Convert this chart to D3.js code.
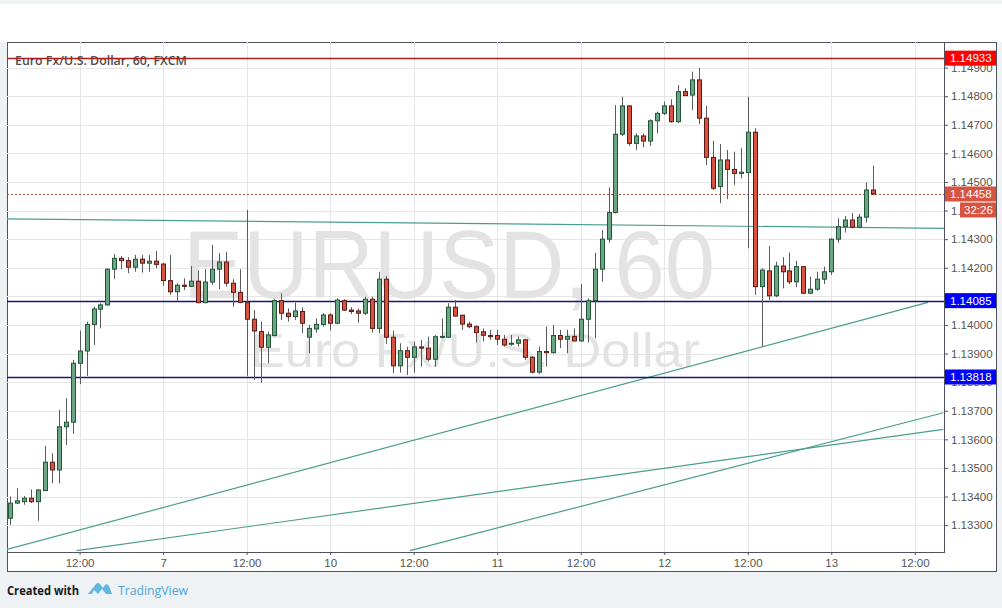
<!DOCTYPE html>
<html><head><meta charset="utf-8">
<script src="https://cdn.jsdelivr.net/npm/d3@7/dist/d3.min.js"></script>
<style>html,body{margin:0;padding:0;background:#eff2f5;} svg{display:block}</style>
</head><body><svg id="c" width="1002" height="608"></svg>
<script>
// ---- data ----
const opens=[
1.13324,1.13377,1.13382,1.13394,1.13382,1.13421,1.13520,1.13493,1.13644,1.13660,
1.13866,1.13909,1.14002,1.14055,1.14070,1.14195,1.14233,1.14225,1.14202,1.14230,
1.14216,1.14223,1.14213,1.14155,1.14116,1.14139,1.14135,1.14153,1.14078,1.14150,
1.14195,1.14220,1.14146,1.14114,1.14078,1.14020,1.13977,1.13922,1.13963,1.14085,
1.14041,1.14029,1.14047,1.13957,1.13986,1.14002,1.14035,1.14006,1.14085,1.14052,
1.14049,1.14041,1.14090,1.13988,1.14160,1.13957,1.13857,1.13910,1.13887,1.13923,
1.13919,1.13880,1.13959,1.13957,1.14062,1.14034,1.14003,1.13994,1.13976,1.13963,
1.13963,1.13950,1.13933,1.13936,1.13948,1.13887,1.13835,1.13907,1.13903,1.13963,
1.13950,1.13960,1.13944,1.14020,1.14085,1.14195,1.14300,1.14393,1.14667,1.14766,
1.14635,1.14661,1.14643,1.14714,1.14740,1.14766,1.14711,1.14816,1.14804,1.14857,
1.14723,1.14586,1.14484,1.14577,1.14544,1.14530,1.14533,1.14674,1.14134,1.14189,
1.14102,1.14206,1.14189,1.14151,1.14204,1.14111,1.14125,1.14160,1.14186,1.14300,
1.14344,1.14367,1.14342,1.14377,1.14472];
const highs=[
1.13400,1.13429,1.13402,1.13425,1.13425,1.13577,1.13551,1.13703,1.13744,1.13878,
1.13980,1.14012,1.14064,1.14076,1.14198,1.14248,1.14241,1.14237,1.14245,1.14245,
1.14245,1.14259,1.14216,1.14245,1.14146,1.14163,1.14206,1.14190,1.14195,1.14280,
1.14251,1.14256,1.14160,1.14195,1.14402,1.14052,1.14012,1.13977,1.14091,1.14111,
1.14058,1.14078,1.14062,1.14000,1.14023,1.14041,1.14041,1.14093,1.14090,1.14062,
1.14058,1.14099,1.14099,1.14186,1.14171,1.13980,1.13936,1.13924,1.13942,1.13948,
1.13959,1.13965,1.14023,1.14076,1.14087,1.14036,1.14012,1.13999,1.13988,1.13983,
1.13983,1.13965,1.13965,1.13959,1.13950,1.13892,1.13924,1.13994,1.14000,1.13983,
1.13983,1.13988,1.14143,1.14093,1.14253,1.14332,1.14481,1.14769,1.14798,1.14768,
1.14670,1.14670,1.14719,1.14746,1.14781,1.14789,1.14839,1.14828,1.14886,1.14899,
1.14766,1.14644,1.14633,1.14612,1.14606,1.14618,1.14798,1.14688,1.14198,1.14276,
1.14221,1.14237,1.14253,1.14225,1.14206,1.14169,1.14186,1.14204,1.14303,1.14373,
1.14381,1.14391,1.14388,1.14498,1.14557];
const lows=[
1.13301,1.13374,1.13371,1.13377,1.13315,1.13419,1.13446,1.13446,1.13580,1.13619,
1.13793,1.13822,1.13930,1.13988,1.14067,1.14160,1.14195,1.14181,1.14186,1.14183,
1.14186,1.14198,1.14137,1.14105,1.14085,1.14122,1.14134,1.14076,1.14076,1.14140,
1.14125,1.14134,1.14064,1.14076,1.13822,1.13808,1.13798,1.13866,1.13960,1.14017,
1.14012,1.14017,1.13971,1.13901,1.13973,1.13994,1.13980,1.14003,1.14049,1.14038,
1.14008,1.14035,1.13973,1.13971,1.13934,1.13831,1.13833,1.13825,1.13833,1.13854,
1.13872,1.13854,1.13953,1.13955,1.14029,1.13983,1.13988,1.13938,1.13942,1.13948,
1.13930,1.13924,1.13927,1.13924,1.13878,1.13831,1.13829,1.13854,1.13900,1.13919,
1.13901,1.13942,1.13942,1.13938,1.13953,1.14151,1.14288,1.14390,1.14661,1.14626,
1.14612,1.14621,1.14626,1.14670,1.14734,1.14707,1.14705,1.14801,1.14752,1.14703,
1.14559,1.14472,1.14426,1.14440,1.14490,1.14513,1.14268,1.14105,1.13924,1.14087,
1.14097,1.14128,1.14143,1.14132,1.14108,1.14108,1.14120,1.14143,1.14175,1.14288,
1.14323,1.14338,1.14338,1.14358,1.14455];
const closes=[
1.13377,1.13385,1.13394,1.13382,1.13423,1.13520,1.13493,1.13644,1.13660,1.13866,
1.13909,1.14002,1.14056,1.14070,1.14195,1.14233,1.14225,1.14202,1.14230,1.14216,
1.14223,1.14212,1.14155,1.14116,1.14139,1.14135,1.14153,1.14078,1.14150,1.14195,
1.14220,1.14146,1.14114,1.14079,1.14020,1.13979,1.13922,1.13965,1.14085,1.14041,
1.14029,1.14049,1.14006,1.13988,1.14002,1.14035,1.14006,1.14087,1.14052,1.14047,
1.14041,1.14090,1.13988,1.14160,1.13957,1.13857,1.13910,1.13887,1.13923,1.13919,
1.13880,1.13959,1.13960,1.14062,1.14031,1.14003,1.13994,1.13973,1.13964,1.13959,
1.13950,1.13930,1.13936,1.13948,1.13887,1.13835,1.13907,1.13903,1.13963,1.13950,
1.13960,1.13944,1.14020,1.14085,1.14195,1.14300,1.14393,1.14667,1.14766,1.14635,
1.14661,1.14643,1.14714,1.14740,1.14766,1.14711,1.14816,1.14802,1.14857,1.14723,
1.14586,1.14478,1.14577,1.14544,1.14530,1.14534,1.14674,1.14134,1.14192,1.14102,
1.14206,1.14186,1.14151,1.14204,1.14111,1.14125,1.14160,1.14186,1.14300,1.14344,
1.14367,1.14342,1.14377,1.14472,1.14458];
const xTickIdx=[10,22,34,46,58,70,82,94,106,118,130];
const xTickLabels=["12:00","7","12:00","10","12:00","11","12:00","12","12:00","13","12:00"];
const yTicks=[1.133,1.134,1.135,1.136,1.137,1.138,1.139,1.140,1.141,1.142,1.143,1.144,1.145,1.146,1.147,1.148,1.149];
// trend lines: [startIndex, startPrice, endIndex, endPrice]
const trendLines=[
  [-0.43,1.14371,134.2,1.14338],
  [-0.43,1.13215,131.9,1.14079],
  [9.58,1.13211,134.1,1.13635],
  [57.47,1.13211,134.1,1.13693]
];
const levelPrices=[1.14933,1.14085,1.13818];
const levelKinds=["red","blue","blue"];
const lastPrice=1.14458;
const countdown="32:26";
const titleText="Euro Fx/U.S. Dollar, 60, FXCM";

// ---- drawing ----
const svg=d3.select("#c");
const L=7,T=42,R=944,B=552;
const x=d3.scaleLinear().domain([-0.43,134.2]).range([L,R]);
const y=d3.scaleLinear().domain([1.13206,1.14986]).range([B,43]);
const fmt=d3.format(".5f");

svg.append("rect").attr("width",1002).attr("height",608).attr("fill","#eff2f5");
svg.append("rect").attr("x",0).attr("y",4).attr("width",1002).attr("height",38).attr("fill","#ffffff");
svg.append("rect").attr("x",7.5).attr("y",42.5).attr("width",989).attr("height",529)
  .attr("fill","#ffffff").attr("stroke","#50535e").attr("stroke-width",1);

// grid
const grid=svg.append("g");
grid.selectAll("line.h").data(yTicks).join("line")
  .attr("x1",L).attr("x2",R).attr("y1",d=>Math.round(y(d))+0.5).attr("y2",d=>Math.round(y(d))+0.5)
  .attr("stroke","#e6e6e6");
grid.selectAll("line.v").data(xTickIdx).join("line")
  .attr("y1",T).attr("y2",B).attr("x1",d=>Math.round(x(d))+0.5).attr("x2",d=>Math.round(x(d))+0.5)
  .attr("stroke","#e6e6e6");

// watermark
svg.append("text").attr("x",183).attr("y",298).attr("font-family","Liberation Sans, Arial, sans-serif")
  .attr("font-size",96).attr("fill","#e3e3e3").attr("textLength",532).attr("lengthAdjust","spacingAndGlyphs")
  .text("EURUSD, 60");
svg.append("text").attr("x",250).attr("y",367).attr("font-family","Liberation Sans, Arial, sans-serif")
  .attr("font-size",48).attr("fill","#e3e3e3").attr("textLength",450).attr("lengthAdjust","spacingAndGlyphs")
  .text("Euro Fx/U.S. Dollar");

// title
svg.append("text").attr("x",15).attr("y",65).attr("font-family","Open Sans, sans-serif")
  .attr("font-size",12.5).attr("font-weight",600).attr("fill","#4d4d4d")
  .attr("textLength",172).attr("lengthAdjust","spacingAndGlyphs").text(titleText);

// clip
svg.append("clipPath").attr("id","pc").append("rect").attr("x",L).attr("y",T).attr("width",R-L).attr("height",B-T);
const pg=svg.append("g").attr("clip-path","url(#pc)");

pg.selectAll("line.tl").data(trendLines).join("line")
  .attr("x1",d=>x(d[0])).attr("y1",d=>y(d[1])).attr("x2",d=>x(d[2])).attr("y2",d=>y(d[3]))
  .attr("stroke","#4a9e8e").attr("stroke-width",1.2);

pg.selectAll("line.lv").data(levelPrices).join("line")
  .attr("x1",L).attr("x2",R).attr("y1",d=>Math.round(y(d))+0.5).attr("y2",d=>Math.round(y(d))+0.5)
  .attr("stroke",(d,i)=>levelKinds[i]==="red"?"#b01c1c":"#141486").attr("stroke-width",1.3);

pg.append("line").attr("x1",L).attr("x2",R).attr("y1",Math.round(y(lastPrice))+0.5).attr("y2",Math.round(y(lastPrice))+0.5)
  .attr("stroke","#a4503f").attr("stroke-dasharray","2,2").attr("stroke-width",1);

const idx=d3.range(opens.length);
const cg=pg.append("g");
cg.selectAll("line.w").data(idx).join("line")
  .attr("x1",i=>Math.round(x(i))+0.5).attr("x2",i=>Math.round(x(i))+0.5)
  .attr("y1",i=>y(highs[i])).attr("y2",i=>y(lows[i]))
  .attr("stroke","#5a5a5c").attr("stroke-width",1);
cg.selectAll("rect.b").data(idx).join("rect")
  .attr("x",i=>Math.round(x(i))-1.5).attr("width",4)
  .attr("y",i=>y(Math.max(opens[i],closes[i])))
  .attr("height",i=>Math.max(1,Math.abs(y(opens[i])-y(closes[i]))))
  .attr("fill",i=>closes[i]>=opens[i]?"#6ba583":"#d75442")
  .attr("stroke",i=>closes[i]>=opens[i]?"#225437":"#5b1a13").attr("stroke-width",1);

// axes
const ya=svg.append("g").attr("transform",`translate(${R},0)`)
  .call(d3.axisRight(y).tickValues(yTicks).tickFormat(fmt).tickSize(4).tickPadding(3));
ya.select(".domain").remove();
ya.selectAll("text").attr("font-family","Liberation Sans, Arial, sans-serif").attr("font-size",11.5).attr("fill","#555");
ya.selectAll("line").attr("stroke","#555");
const xa=svg.append("g").attr("transform",`translate(0,${B})`)
  .call(d3.axisBottom(x).tickValues(xTickIdx).tickFormat((d,i)=>xTickLabels[i]).tickSize(3).tickPadding(4));
xa.select(".domain").remove();
xa.selectAll("text").attr("font-family","Liberation Sans, Arial, sans-serif").attr("font-size",11.5).attr("fill","#555");
xa.selectAll("line").attr("stroke","#555");
svg.append("line").attr("x1",R+0.5).attr("x2",R+0.5).attr("y1",T).attr("y2",B+1).attr("stroke","#50535e");
svg.append("line").attr("x1",L).attr("x2",R+1).attr("y1",B+0.5).attr("y2",B+0.5).attr("stroke","#50535e");

// price labels
function priceBox(p,fill,label,x0){
  const yc=y(p);
  svg.append("rect").attr("x",x0).attr("y",yc-7.5).attr("width",996-x0).attr("height",15).attr("fill",fill);
  svg.append("text").attr("x",x0+5).attr("y",yc+4).attr("font-family","Liberation Sans, Arial, sans-serif")
    .attr("font-size",11.5).attr("fill","#fff").text(label);
}
levelPrices.forEach((p,i)=>priceBox(p,levelKinds[i]==="red"?"#ff0000":"#0000ff",fmt(p),945));
priceBox(lastPrice,"#d75442",fmt(lastPrice),945);
{
  const yc=y(lastPrice)+16;
  svg.append("rect").attr("x",960).attr("y",yc-7.5).attr("width",36).attr("height",15).attr("fill","#d75442");
  svg.append("text").attr("x",964).attr("y",yc+4).attr("font-family","Liberation Sans, Arial, sans-serif")
    .attr("font-size",11.5).attr("fill","#fff").text(countdown);
}

// footer
svg.append("text").attr("x",7).attr("y",595).attr("font-family","Open Sans, sans-serif").attr("font-weight",700)
  .attr("font-size",12.5).attr("fill","#1a1a1a").attr("textLength",72).attr("lengthAdjust","spacingAndGlyphs").text("Created with");
svg.append("path").attr("d","M88,594 L96,584 Q98,582 100,584 L103,588 L105,585 Q107,583 109,586 L112,594 L106,594 L102,589 L98,594 L94,590 L92,594 Z")
  .attr("fill","#5fb6e0");
svg.append("text").attr("x",118).attr("y",595).attr("font-family","Open Sans, sans-serif")
  .attr("font-size",12.5).attr("fill","#4ea6d8").attr("textLength",70).attr("lengthAdjust","spacingAndGlyphs").text("TradingView");
</script></body></html>
